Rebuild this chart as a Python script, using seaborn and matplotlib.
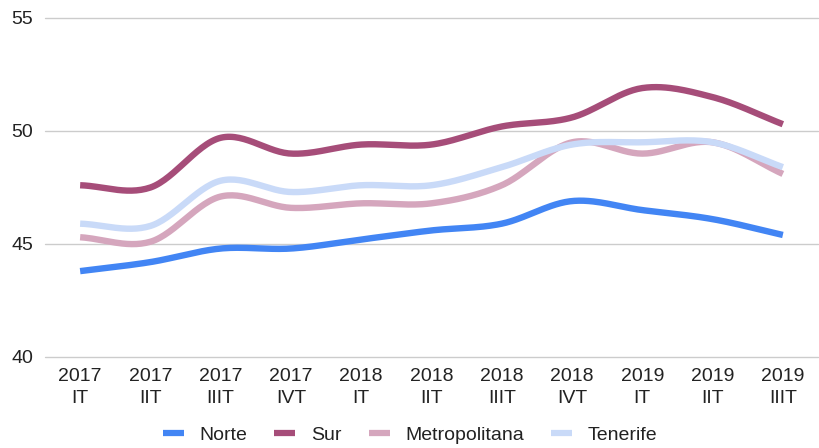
import numpy as np
import pandas as pd
import seaborn as sns
import matplotlib.pyplot as plt
from matplotlib.lines import Line2D

quarters = ["2017\nIT", "2017\nIIT", "2017\nIIIT", "2017\nIVT", "2018\nIT", "2018\nIIT",
            "2018\nIIIT", "2018\nIVT", "2019\nIT", "2019\nIIT", "2019\nIIIT"]
norte = [43.8, 44.2, 44.8, 44.8, 45.2, 45.6, 45.9, 46.9, 46.5, 46.1, 45.4]
sur = [47.6, 47.5, 49.7, 49.0, 49.4, 49.4, 50.2, 50.6, 51.9, 51.5, 50.3]
metropolitana = [45.3, 45.1, 47.1, 46.6, 46.8, 46.8, 47.6, 49.5, 49.0, 49.5, 48.1]
tenerife = [45.9, 45.8, 47.8, 47.3, 47.6, 47.6, 48.4, 49.4, 49.5, 49.5, 48.4]

series = {"Norte": norte, "Sur": sur, "Metropolitana": metropolitana, "Tenerife": tenerife}
colors = {"Norte": "#4285F4", "Sur": "#A64D79", "Metropolitana": "#D5A6BD", "Tenerife": "#C9DAF8"}


def smooth(y, steps=30):
    """Catmull-Rom curve through the points (display smoothing only)."""
    y = np.asarray(y, dtype=float)
    n = len(y)
    m = np.zeros(n)
    m[1:-1] = (y[2:] - y[:-2]) / 2
    m[0] = y[1] - y[0]
    m[-1] = y[-1] - y[-2]
    xs, ys = [], []
    for i in range(n - 1):
        t = np.linspace(0, 1, steps, endpoint=(i == n - 2))
        h00 = 2 * t**3 - 3 * t**2 + 1
        h10 = t**3 - 2 * t**2 + t
        h01 = -2 * t**3 + 3 * t**2
        h11 = t**3 - t**2
        xs.append(i + t)
        ys.append(h00 * y[i] + h10 * m[i] + h01 * y[i + 1] + h11 * m[i + 1])
    return np.concatenate(xs), np.concatenate(ys)


frames = []
for name, vals in series.items():
    xs, ys = smooth(vals)
    frames.append(pd.DataFrame({"x": xs, "y": ys, "zona": name}))
df = pd.concat(frames, ignore_index=True)

sns.set_theme(style="white")
plt.rcParams["font.family"] = ["Liberation Sans", "DejaVu Sans"]

fig = plt.figure(figsize=(8.2, 4.48), dpi=100)
ax = fig.add_axes([45 / 820, 1 - 357 / 448, (818 - 45) / 820, (357 - 18) / 448])

sns.lineplot(data=df, x="x", y="y", hue="zona", palette=colors, sort=False,
             linewidth=4.6, legend=False, ax=ax, solid_capstyle="butt")

ax.set_xlim(-0.5, len(quarters) - 0.5)
ax.set_ylim(40, 55)
ax.set_yticks([40, 45, 50, 55])
ax.set_xticks(range(len(quarters)))
ax.set_xticklabels(quarters, fontsize=14, color="#222222", linespacing=1.4)
ax.tick_params(axis="y", labelsize=14, labelcolor="#222222", length=0, pad=8.5)
ax.tick_params(axis="x", length=0, pad=8)
ax.grid(axis="y", color="#cccccc", linewidth=1)
for gl in ax.get_ygridlines():
    gl.set_clip_on(False)
ax.set_xlabel("")
ax.set_ylabel("")
for s in ax.spines.values():
    s.set_visible(False)

handles = [Line2D([0], [0], color=c, linewidth=4.5, solid_capstyle="butt") for c in colors.values()]
fig.legend(handles, list(colors.keys()), loc="center", bbox_to_anchor=(0.5, 1 - 435 / 448),
           ncol=4, frameon=False, fontsize=14, handlelength=1.08, handletextpad=0.8,
           columnspacing=1.4, labelcolor="#222222")

fig.savefig("out.png", dpi=100)
